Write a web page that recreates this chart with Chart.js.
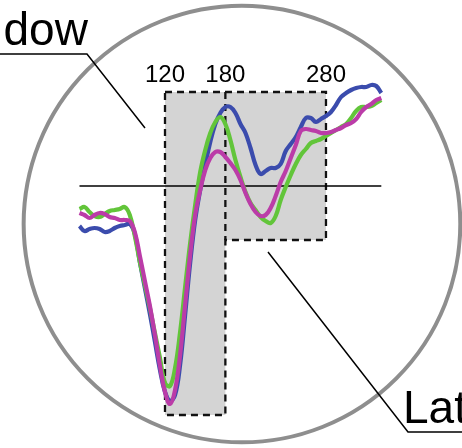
<!DOCTYPE html>
<html lang="en">
<head>
    <meta charset="UTF-8">
    <title>ERP windows</title>
    <script src="https://cdn.jsdelivr.net/npm/chart.js"></script>
    <style>
        body {
            margin: 0;
            padding: 0;
            background-color: white;
        }

        .chart-box {
            position: relative;
            width: 462px;
            height: 448px;
        }
    </style>
</head>
<body>
<div class="chart-box">
    <canvas id="erp-chart"></canvas>
</div>
<script>
    // time in ms, amplitude in µV
    var times = [35, 40, 45, 50, 55, 60, 65, 70, 75, 80, 85, 90, 95, 100, 105, 110, 115, 120, 125, 130,
        135, 140, 145, 150, 155, 160, 165, 170, 175, 180, 185, 190, 195, 200, 205, 210, 215, 220, 225, 230,
        235, 240, 245, 250, 255, 260, 265, 270, 275, 280, 285, 290, 295, 300, 305, 310, 315, 320, 325, 330, 335];

    var blueWave = [-2.00, -2.25, -2.15, -2.10, -2.15, -2.30, -2.25, -2.10, -2.00, -1.95, -1.90, -2.40, -3.80, -5.10,
        -6.40, -7.80, -9.20, -10.30, -10.75, -10.45, -8.95, -6.45, -3.85, -1.70, -0.20, 1.05, 2.20, 3.10, 3.65, 3.95,
        3.95, 3.65, 3.10, 2.65, 1.90, 1.05, 0.60, 0.75, 0.90, 0.90, 1.10, 1.75, 2.10, 2.45, 2.95, 3.40, 3.40, 3.20,
        3.35, 3.50, 3.70, 4.05, 4.45, 4.65, 4.80, 4.90, 4.95, 4.95, 5.05, 5.00, 4.65];

    var greenWave = [-1.15, -1.05, -1.30, -1.50, -1.55, -1.40, -1.25, -1.20, -1.15, -1.05, -1.45, -2.50, -3.80, -4.95,
        -6.10, -7.35, -8.60, -9.85, -10.00, -9.10, -7.30, -5.05, -2.85, -0.95, 0.70, 1.80, 2.65, 3.20, 3.45, 3.10,
        2.30, 1.30, 0.45, -0.30, -0.85, -1.20, -1.55, -1.75, -1.85, -1.50, -0.70, -0.05, 0.55, 1.10, 1.55, 1.85,
        2.15, 2.25, 2.35, 2.50, 2.65, 2.80, 2.95, 3.10, 3.40, 3.75, 3.95, 3.95, 4.00, 4.15, 4.30];

    var magentaWave = [-1.35, -1.45, -1.60, -1.45, -1.35, -1.40, -1.55, -1.60, -1.70, -1.70, -1.75, -2.30, -3.50, -4.75,
        -6.00, -7.45, -9.00, -10.30, -10.90, -10.20, -8.45, -5.95, -3.45, -1.45, -0.20, 0.80, 1.40, 1.70, 1.70, 1.45,
        1.15, 0.80, 0.30, -0.35, -0.90, -1.30, -1.50, -1.45, -1.10, -0.50, 0.20, 0.75, 1.40, 2.05, 2.75, 2.85,
        2.80, 2.75, 2.65, 2.65, 2.70, 2.80, 2.90, 3.05, 3.15, 3.35, 3.70, 3.95, 4.10, 4.30, 4.40];

    // analysis windows: early 120-180 ms, late 180-280 ms
    var windowEdges = [120, 180, 280];
    var windowLabels = ['120', '180', '280'];
    var windowTop = 4.7;
    var earlyBottom = -11.45;
    var lateBottom = -2.7;

    function toPoints(values) {
        return values.map(function (v, i) {
            return {x: times[i], y: v};
        });
    }

    var windowsPlugin = {
        id: 'windows',
        beforeDatasetsDraw: function (chart) {
            var ctx = chart.ctx;
            var xs = chart.scales.x;
            var ys = chart.scales.y;
            var x0 = xs.getPixelForValue(windowEdges[0]);
            var x1 = xs.getPixelForValue(windowEdges[1]);
            var x2 = xs.getPixelForValue(windowEdges[2]);
            var yTop = ys.getPixelForValue(windowTop);
            var yEarly = ys.getPixelForValue(earlyBottom);
            var yLate = ys.getPixelForValue(lateBottom);

            ctx.save();
            ctx.beginPath();
            ctx.moveTo(x0, yTop);
            ctx.lineTo(x2, yTop);
            ctx.lineTo(x2, yLate);
            ctx.lineTo(x1, yLate);
            ctx.lineTo(x1, yEarly);
            ctx.lineTo(x0, yEarly);
            ctx.closePath();
            ctx.fillStyle = '#d4d4d4';
            ctx.fill();
            ctx.setLineDash([7, 5]);
            ctx.lineWidth = 2.3;
            ctx.strokeStyle = '#111';
            ctx.stroke();

            ctx.beginPath();
            ctx.moveTo(x1, yTop);
            ctx.lineTo(x1, yLate);
            ctx.stroke();
            ctx.setLineDash([]);

            // zero line
            var yZero = ys.getPixelForValue(0);
            ctx.beginPath();
            ctx.moveTo(xs.getPixelForValue(times[0]), yZero);
            ctx.lineTo(xs.getPixelForValue(times[times.length - 1]), yZero);
            ctx.lineWidth = 1.4;
            ctx.strokeStyle = '#000';
            ctx.stroke();
            ctx.restore();
        },
        afterDatasetsDraw: function (chart) {
            var ctx = chart.ctx;
            var xs = chart.scales.x;
            var ys = chart.scales.y;
            var yTop = ys.getPixelForValue(windowTop);

            ctx.save();
            ctx.fillStyle = '#000';
            ctx.font = '24px "Liberation Sans", Arial, sans-serif';
            ctx.textAlign = 'center';
            ctx.textBaseline = 'alphabetic';
            windowEdges.forEach(function (t, i) {
                ctx.fillText(windowLabels[i], xs.getPixelForValue(t), yTop - 10);
            });

            // magnifier ring
            var cx = xs.getPixelForValue(196.5);
            var cy = ys.getPixelForValue(-1.9);
            var r = xs.getPixelForValue(196.5 + 217) - cx;
            ctx.beginPath();
            ctx.arc(cx, cy, r, 0, Math.PI * 2);
            ctx.lineWidth = 4;
            ctx.strokeStyle = '#8e8e8e';
            ctx.stroke();

            // callouts
            ctx.strokeStyle = '#000';
            ctx.lineWidth = 1.5;
            ctx.beginPath();
            ctx.moveTo(0, 54);
            ctx.lineTo(87, 54);
            ctx.lineTo(145, 128);
            ctx.stroke();

            ctx.beginPath();
            ctx.moveTo(268, 252);
            ctx.lineTo(408, 432);
            ctx.lineTo(462, 432);
            ctx.stroke();

            ctx.font = '46px "Liberation Sans", Arial, sans-serif';
            ctx.textAlign = 'left';
            ctx.fillText('dow', 3.5, 45);
            ctx.fillText('Lat', 403, 423);
            ctx.restore();
        }
    };

    var ctx = document.getElementById('erp-chart').getContext('2d');
    new Chart(ctx, {
        type: 'line',
        data: {
            datasets: [{
                label: 'magenta',
                data: toPoints(magentaWave),
                borderColor: '#bb3ca8',
                order: 0
            }, {
                label: 'green',
                data: toPoints(greenWave),
                borderColor: '#62c53a',
                order: 1
            }, {
                label: 'blue',
                data: toPoints(blueWave),
                borderColor: '#3b4cad',
                order: 2
            }]
        },
        options: {
            responsive: true,
            maintainAspectRatio: false,
            animation: false,
            layout: {padding: 0},
            elements: {
                point: {radius: 0},
                line: {borderWidth: 4.2, tension: 0.4, fill: false, capBezierPoints: true}
            },
            scales: {
                x: {type: 'linear', min: -44, max: 415.2, display: false},
                y: {min: -13.1, max: 9.3, display: false}
            },
            plugins: {
                legend: {display: false},
                tooltip: {enabled: false}
            }
        },
        plugins: [windowsPlugin]
    });
</script>
</body>
</html>
